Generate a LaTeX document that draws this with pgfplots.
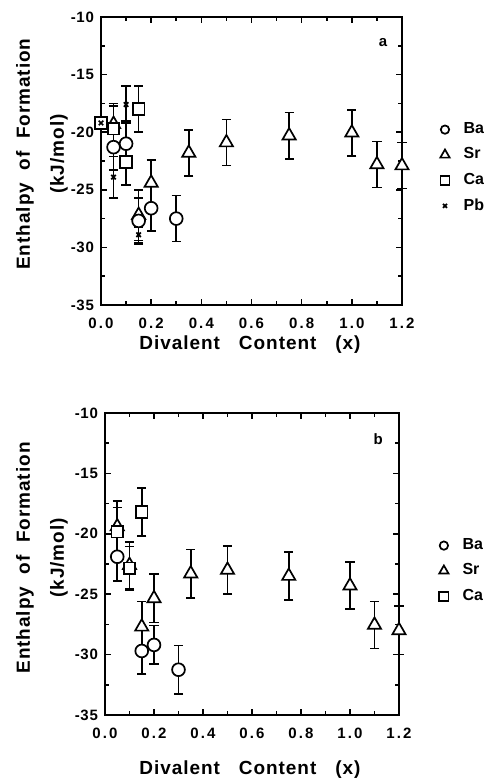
\documentclass[border=0pt]{standalone}
\usepackage{fontspec}
\setmainfont{Liberation Sans}
\newfontfamily\labfont[LetterSpace=5]{Liberation Sans}
\newfontfamily\tickfont[LetterSpace=14]{Liberation Sans}
\usepackage{pgfplots}
\pgfplotsset{compat=1.18}

\pgfplotsset{
  panel/.style={
    scale only axis, clip=false,
    xmin=0, xmax=1.2, ymin=-35, ymax=-10,
    xtick={0,0.2,0.4,0.6,0.8,1.0,1.2},
    xticklabels={0.0,0.2,0.4,0.6,0.8,1.0,1.2},
    minor xtick={0.1,0.3,0.5,0.7,0.9,1.1},
    ytick={-35,-30,-25,-20,-15,-10},
    yticklabels={-35,-30,-25,-20,-15,-10},
    minor ytick={-32.5,-27.5,-22.5,-17.5,-12.5},
    tick align=inside,
    major tick length=3pt, minor tick length=2pt,
    axis line style={line width=0.9pt},
    every tick/.style={black, line width=0.8pt},
    x tick label style={font=\tickfont\bfseries\fontsize{7.5}{9}\selectfont, yshift=-3pt},
    y tick label style={font=\labfont\bfseries\fontsize{7.5}{9}\selectfont},
    label style={font=\labfont\bfseries\fontsize{9.5}{17}\selectfont},
    xlabel={Divalent\quad Content\quad (x)},
    ylabel={Enthalpy\ \ of\ \ Formation\\(kJ/mol)},
    ylabel style={align=center, anchor=center},
    xlabel style={anchor=center},
    legend style={draw=none, fill=none, row sep=4.6pt, column sep=6.5pt,
      font=\bfseries\fontsize{8}{9}\selectfont, anchor=north west,
      nodes={inner sep=0.5pt}},
    legend cell align=left,
    legend image code/.code={\draw[#1] plot coordinates {(0pt,0pt)};},
  },
  pts/.style={only marks, black, line width=0.85pt,
    mark options={fill=white, solid, line width=0.85pt},
    error bars/y dir=both, error bars/y explicit,
    error bars/error bar style={line width=0.85pt, black},
    error bars/error mark options={rotate=90, mark size=2.3pt, line width=0.85pt, black}},
  ba/.style={pts, mark=*, mark size=3.2pt},
  sr/.style={pts, mark=triangle*, mark size=3.8pt},
  ca/.style={pts, mark=square*, mark size=2.9pt},
  pb/.style={pts, mark=x, mark size=1.6pt},
  lg/.style={only marks, black, line width=0.85pt, mark options={fill=white, solid}},
}

\begin{document}
\begin{tikzpicture}
\useasboundingbox (0,0) rectangle (244pt,390pt);

% panel a
\begin{axis}[panel,
  at={(50.5pt,237.5pt)}, anchor=south west,
  width=150.5pt, height=144pt,
  ylabel style={at={(rel axis cs:-0.196,0.524)}},
  xlabel style={at={(rel axis cs:0.495,-0.139)}},
  legend style={at={(rel axis cs:1.106,0.652)}},
]
  \addplot[sr, forget plot] coordinates {
    (0.05,-19.3) +- (0,1.8)
    (0.15,-27.2) +- (0,2.2)
    (0.2,-24.4) +- (0,2.0)
    (0.35,-21.8) +- (0,2.0)
    (0.5,-20.9) +- (0,2.0)
    (0.75,-20.3) +- (0,2.0)
    (1.0,-20.05) +- (0,2.0)
    (1.1,-22.8) +- (0,2.0)
    (1.2,-22.9) +- (0,2.0)
  };
  \addplot[ca, forget plot] coordinates {
    (0.0,-19.2) +- (0,0.3)
    (0.05,-19.7) +- (0,2.0)
    (0.1,-22.6) +- (0,2.0)
    (0.15,-18.0) +- (0,2.0)
  };
  \addplot[ba, forget plot] coordinates {
    (0.05,-21.3) +- (0,2.0)
    (0.1,-21.0) +- (0,2.0)
    (0.15,-27.7) +- (0,2.0)
    (0.2,-26.6) +- (0,2.0)
    (0.3,-27.5) +- (0,2.0)
  };
  \addplot[pb, forget plot] coordinates {
    (0.0,-19.2) +- (0,0.3)
    (0.05,-23.9) +- (0,1.8)
    (0.1,-17.6) +- (0,1.6)
    (0.15,-28.9) +- (0,0.7)
  };
  \addlegendimage{lg, mark=*, mark size=2.1pt}
  \addlegendentry{Ba}
  \addlegendimage{lg, mark=triangle*, mark size=2.7pt}
  \addlegendentry{Sr}
  \addlegendimage{lg, mark=square*, mark size=2.3pt}
  \addlegendentry{Ca}
  \addlegendimage{lg, mark=x, mark size=1.4pt}
  \addlegendentry{Pb}
  \node[font=\bfseries\fontsize{7.5}{9}\selectfont] at (rel axis cs:0.937,0.91) {a};
\end{axis}

% panel b
\begin{axis}[panel,
  at={(52.5pt,32.5pt)}, anchor=south west,
  width=147pt, height=151pt,
  ylabel style={at={(rel axis cs:-0.214,0.52)}},
  xlabel style={at={(rel axis cs:0.493,-0.182)}},
  legend style={at={(rel axis cs:1.115,0.602)}},
]
  \addplot[sr, forget plot] coordinates {
    (0.05,-19.4) +- (0,2.1)
    (0.1,-22.6) +- (0,1.95)
    (0.15,-27.7) +- (0,2.1)
    (0.2,-25.35) +- (0,2.0)
    (0.35,-23.3) +- (0,2.0)
    (0.5,-23.0) +- (0,2.0)
    (0.75,-23.5) +- (0,2.0)
    (1.0,-24.3) +- (0,1.95)
    (1.1,-27.55) +- (0,1.95)
    (1.2,-28.0) +- (0,2.0)
  };
  \addplot[ca, forget plot] coordinates {
    (0.05,-19.83) +- (0,2.0)
    (0.1,-22.86) +- (0,1.8)
    (0.15,-18.2) +- (0,2.0)
  };
  \addplot[ba, forget plot] coordinates {
    (0.05,-21.9) +- (0,2.0)
    (0.15,-29.7) +- (0,1.9)
    (0.2,-29.2) +- (0,1.6)
    (0.3,-31.25) +- (0,2.0)
  };
  \addlegendimage{lg, mark=*, mark size=2.1pt}
  \addlegendentry{Ba}
  \addlegendimage{lg, mark=triangle*, mark size=2.7pt}
  \addlegendentry{Sr}
  \addlegendimage{lg, mark=square*, mark size=2.3pt}
  \addlegendentry{Ca}
  \node[font=\bfseries\fontsize{7.5}{9}\selectfont] at (rel axis cs:0.929,0.914) {b};
\end{axis}
\end{tikzpicture}
\end{document}
